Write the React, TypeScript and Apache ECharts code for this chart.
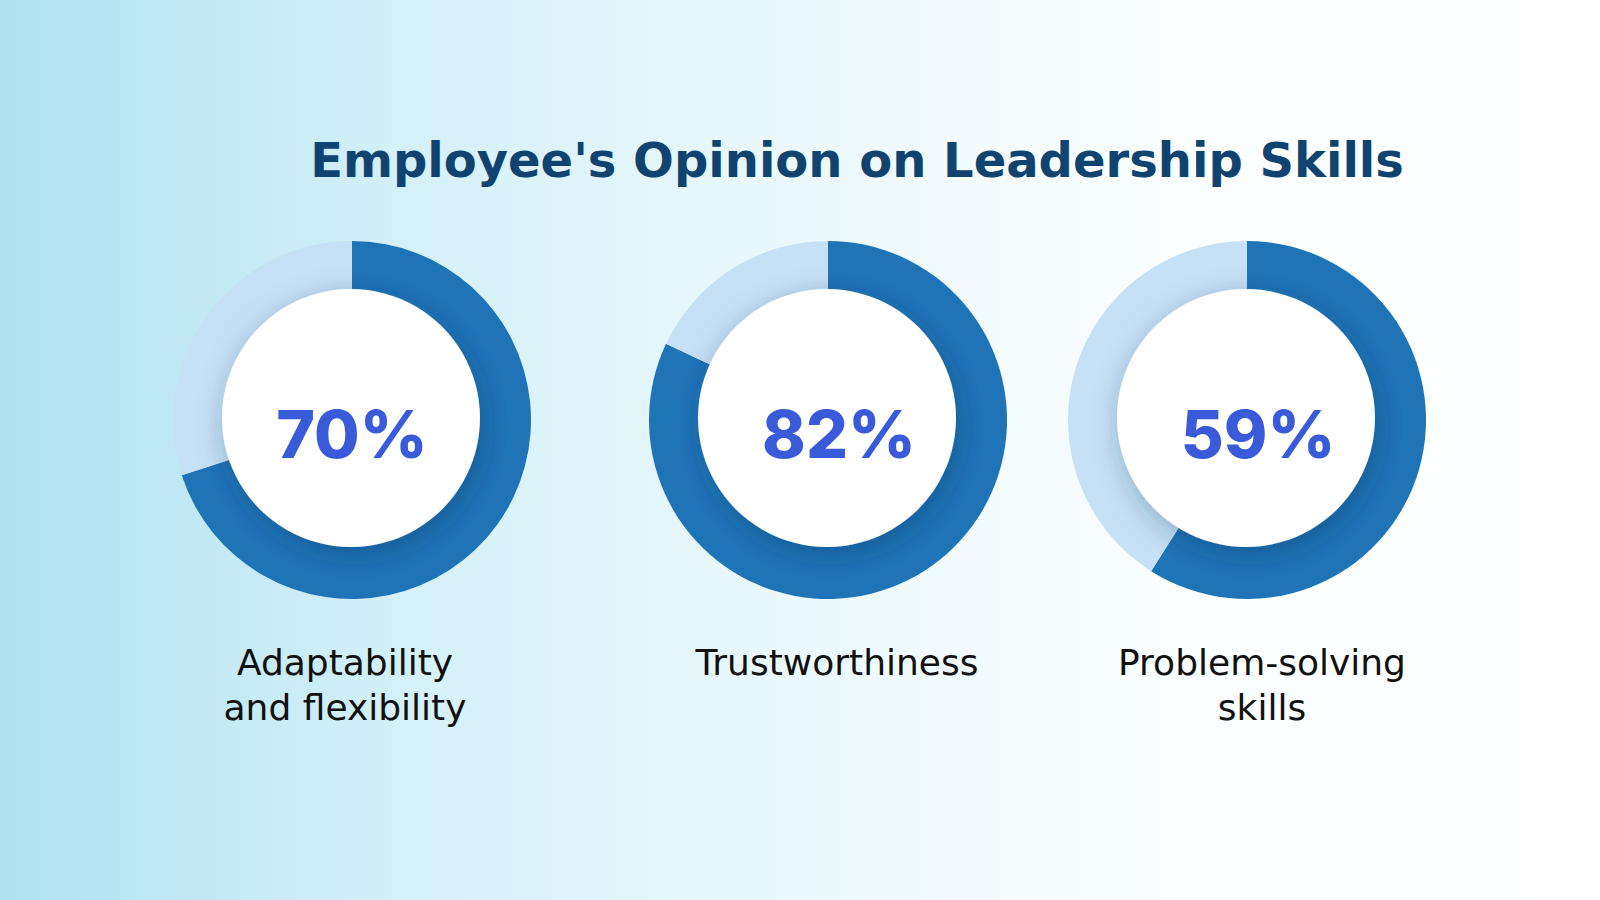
import React, { useEffect, useRef } from "react";
import * as echarts from "echarts";

const titleText = "Employee's Opinion on Leadership Skills";
const categories = ["Adaptability\nand flexibility", "Trustworthiness", "Problem-solving\nskills"];
const percentValues = [70, 82, 59];
const centersX = [352, 828, 1247];
const labelShiftX = [-7, 9, 15];
const pctShiftX = [1, 12, 12];
const centerY = 420;

export default function App() {
  const ref = useRef<HTMLDivElement>(null);
  useEffect(() => {
    if (!ref.current) return;
    const chart = echarts.init(ref.current, null, { renderer: "svg" });
    const series: any[] = [];
    percentValues.forEach((v, i) => {
      series.push({
        type: "pie",
        center: [centersX[i], centerY],
        radius: [118, 179],
        startAngle: 90,
        clockwise: true,
        silent: true,
        label: { show: false },
        labelLine: { show: false },
        z: 1,
        data: [
          { value: v, name: categories[i], itemStyle: { color: "#1f74b8" } },
          { value: 100 - v, name: "rest", itemStyle: { color: "#c6e1f6" } },
        ],
      });
      series.push({
        type: "pie",
        center: [centersX[i] - 1, centerY - 2],
        radius: [0, 129],
        silent: true,
        z: 2,
        labelLine: { show: false },
        itemStyle: {
          color: "#ffffff",
          shadowBlur: 30,
          shadowColor: "rgba(10,40,80,0.32)",
          shadowOffsetX: 4,
          shadowOffsetY: 8,
        },
        label: {
          show: true,
          position: "center",
          formatter: "{c}%",
          fontFamily: "Inter, 'Noto Sans', sans-serif",
          fontWeight: 800,
          fontSize: 66,
          color: "#3a5bd9",
          offset: [pctShiftX[i], 16],
        },
        data: [{ value: v, name: categories[i] }],
      });
    });
    const graphics: any[] = [
      {
        type: "text",
        x: 857,
        y: 160,
        style: {
          text: titleText,
          fontFamily: "'DejaVu Sans', sans-serif",
          fontWeight: 700,
          fontSize: 48,
          fill: "#10436f",
          textAlign: "center",
          textVerticalAlign: "middle",
        },
      },
    ];
    categories.forEach((c, i) => {
      graphics.push({
        type: "text",
        x: centersX[i] + labelShiftX[i],
        y: 640,
        style: {
          text: c,
          fontFamily: "'DejaVu Sans', sans-serif",
          fontWeight: 400,
          fontSize: 36,
          lineHeight: 45,
          fill: "#111111",
          textAlign: "center",
          textVerticalAlign: "top",
        },
      });
    });
    chart.setOption({
      animation: false,
      backgroundColor: {
        type: "linear",
        x: 0,
        y: 0,
        x2: 1,
        y2: 0,
        colorStops: [
          { offset: 0, color: "#afe2f1" },
          { offset: 0.25, color: "#d4f0f8" },
          { offset: 0.5, color: "#ebf9fc" },
          { offset: 0.75, color: "#fbfeff" },
          { offset: 1, color: "#ffffff" },
        ],
      },
      series,
      graphic: graphics,
    });
    return () => chart.dispose();
  }, []);
  return (
    <div
      ref={ref}
      style={{ position: "fixed", left: 0, top: 0, width: 1600, height: 900 }}
    />
  );
}
